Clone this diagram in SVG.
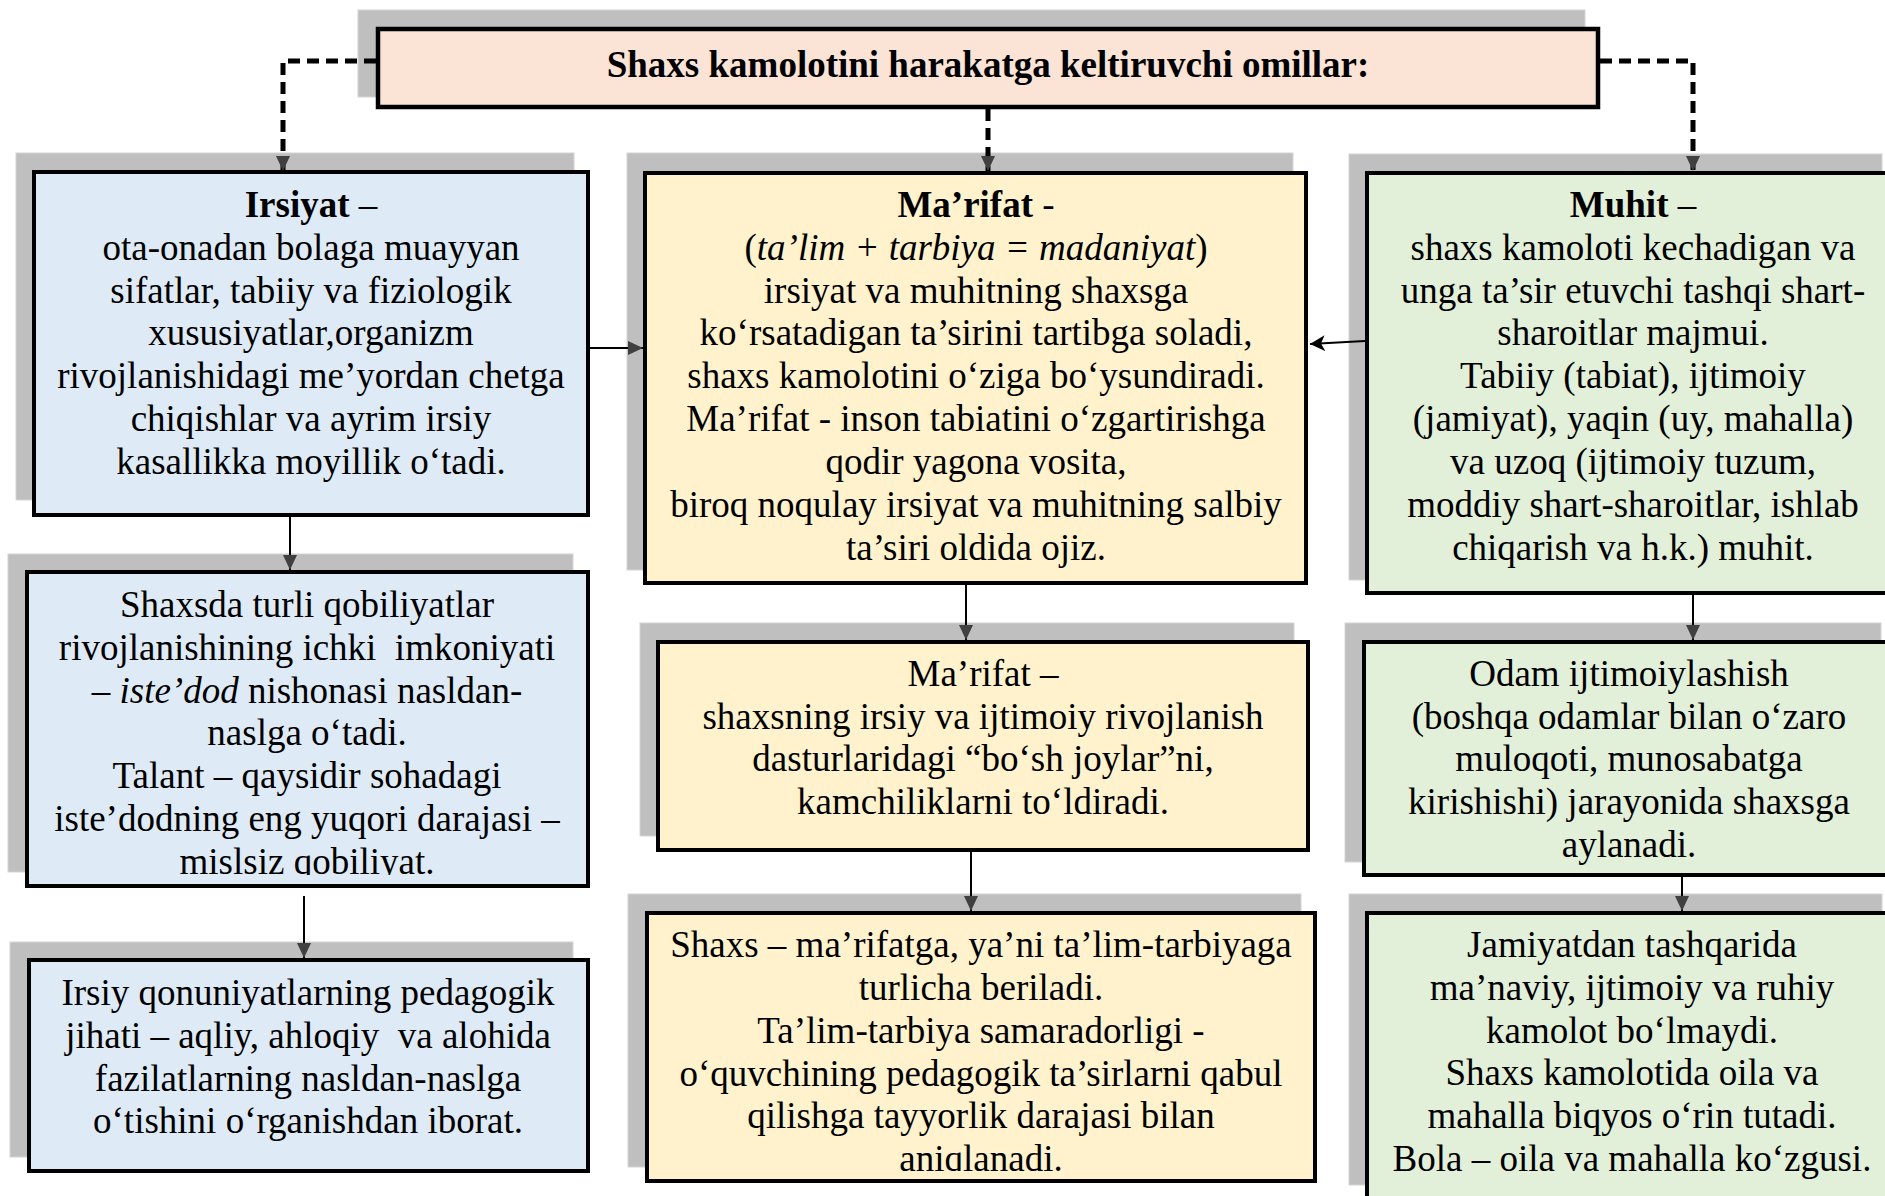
<svg xmlns="http://www.w3.org/2000/svg" width="1885" height="1196" viewBox="0 0 1885 1196">
<style>
.sh{fill:#bfbfbf;stroke:#d4d4d4;stroke-width:1}
.bx{stroke:#000;stroke-width:4}
.blue{fill:#deeaf6}
.yel{fill:#fff2cc}
.grn{fill:#e2efd9}
.ttl{fill:#fbe4d5;stroke:#000;stroke-width:4.5}
text{font-family:"Liberation Serif","Times New Roman",serif;font-size:37px;fill:#000;text-anchor:middle}
.b{font-weight:bold}
.i{font-style:italic}
.dash{fill:none;stroke:#000;stroke-width:5;stroke-dasharray:12 7}
.ln{fill:none;stroke:#000;stroke-width:2}
</style>
<defs>
<marker id="ag" markerUnits="userSpaceOnUse" markerWidth="16" markerHeight="16" refX="15" refY="7" orient="auto" viewBox="0 0 16 14">
<path d="M0,0 L15,7 L0,14 z" fill="#404040"/>
</marker>
<marker id="ab" markerUnits="userSpaceOnUse" markerWidth="16" markerHeight="16" refX="15" refY="8" orient="auto" viewBox="0 0 16 16">
<path d="M0,0 L15,8 L0,16 L4,8 z" fill="#000"/>
</marker>
<clipPath id="c2"><rect x="25" y="570" width="565" height="305"/></clipPath>
<clipPath id="c6"><rect x="645" y="911" width="672" height="260"/></clipPath>
</defs>

<g id="title">
<rect class="sh" x="358" y="10" width="1227" height="87"/>
<rect class="ttl" x="378" y="29" width="1220" height="78"/>
<text class="b" x="988" y="77">Shaxs kamolotini harakatga keltiruvchi omillar:</text>
</g>

<g id="irsiyat">
<rect class="sh" x="16" y="153" width="558" height="347"/>
<rect class="bx blue" x="34" y="172" width="554" height="343"/>
<text x="311" y="217"><tspan class="b">Irsiyat</tspan> –</text>
<text x="311" y="260">ota-onadan bolaga muayyan</text>
<text x="311" y="303">sifatlar, tabiiy va fiziologik</text>
<text x="311" y="345">xususiyatlar,organizm</text>
<text x="311" y="388">rivojlanishidagi me’yordan chetga</text>
<text x="311" y="431">chiqishlar va ayrim irsiy</text>
<text x="311" y="474">kasallikka moyillik o‘tadi.</text>
</g>

<g id="marifat">
<rect class="sh" x="627" y="153" width="666" height="417"/>
<rect class="bx yel" x="645" y="173" width="661" height="410"/>
<text x="976" y="217"><tspan class="b">Ma’rifat</tspan> -</text>
<text x="976" y="260">(<tspan class="i">ta’lim + tarbiya = madaniyat</tspan>)</text>
<text x="976" y="303">irsiyat va muhitning shaxsga</text>
<text x="976" y="345">ko‘rsatadigan ta’sirini tartibga soladi,</text>
<text x="976" y="388">shaxs kamolotini o‘ziga bo‘ysundiradi.</text>
<text x="976" y="431">Ma’rifat - inson tabiatini o‘zgartirishga</text>
<text x="976" y="474">qodir yagona vosita,</text>
<text x="976" y="517">biroq noqulay irsiyat va muhitning salbiy</text>
<text x="976" y="560">ta’siri oldida ojiz.</text>
</g>

<g id="muhit">
<rect class="sh" x="1349" y="154" width="533" height="426"/>
<rect class="bx grn" x="1367" y="173" width="530" height="420"/>
<text x="1633" y="217"><tspan class="b">Muhit</tspan> –</text>
<text x="1633" y="260">shaxs kamoloti kechadigan va</text>
<text x="1633" y="303">unga ta’sir etuvchi tashqi shart-</text>
<text x="1633" y="345">sharoitlar majmui.</text>
<text x="1633" y="388">Tabiiy (tabiat), ijtimoiy</text>
<text x="1633" y="431">(jamiyat), yaqin (uy, mahalla)</text>
<text x="1633" y="474">va uzoq (ijtimoiy tuzum,</text>
<text x="1633" y="517">moddiy shart-sharoitlar, ishlab</text>
<text x="1633" y="560">chiqarish va h.k.) muhit.</text>
</g>

<g id="irsiyat2">
<rect class="sh" x="8" y="554" width="565" height="318"/>
<rect class="bx blue" x="27" y="572" width="561" height="314"/>
<g clip-path="url(#c2)">
<text x="307" y="617">Shaxsda turli qobiliyatlar</text>
<text x="307" y="660">rivojlanishining ichki&#160; imkoniyati</text>
<text x="307" y="703">– <tspan class="i">iste’dod</tspan> nishonasi nasldan-</text>
<text x="307" y="745">naslga o‘tadi.</text>
<text x="307" y="788">Talant – qaysidir sohadagi</text>
<text x="307" y="831">iste’dodning eng yuqori darajasi –</text>
<text x="307" y="874">mislsiz qobiliyat.</text>
</g>
</g>

<g id="irsiyat3">
<rect class="sh" x="10" y="942" width="563" height="215"/>
<rect class="bx blue" x="29" y="960" width="559" height="211"/>
<text x="308" y="1005">Irsiy qonuniyatlarning pedagogik</text>
<text x="308" y="1048">jihati – aqliy, ahloqiy&#160; va alohida</text>
<text x="308" y="1091">fazilatlarning nasldan-naslga</text>
<text x="308" y="1133">o‘tishini o‘rganishdan iborat.</text>
</g>

<g id="marifat2">
<rect class="sh" x="640" y="623" width="654" height="213"/>
<rect class="bx yel" x="658" y="642" width="650" height="208"/>
<text x="983" y="686">Ma’rifat –</text>
<text x="983" y="729">shaxsning irsiy va ijtimoiy rivojlanish</text>
<text x="983" y="771">dasturlaridagi “bo‘sh joylar”ni,</text>
<text x="983" y="814">kamchiliklarni to‘ldiradi.</text>
</g>

<g id="marifat3">
<rect class="sh" x="628" y="894" width="673" height="273"/>
<rect class="bx yel" x="647" y="913" width="668" height="268"/>
<g clip-path="url(#c6)">
<text x="981" y="957">Shaxs – ma’rifatga, ya’ni ta’lim-tarbiyaga</text>
<text x="981" y="1000">turlicha beriladi.</text>
<text x="981" y="1043">Ta’lim-tarbiya samaradorligi -</text>
<text x="981" y="1086">o‘quvchining pedagogik ta’sirlarni qabul</text>
<text x="981" y="1128">qilishga tayyorlik darajasi bilan</text>
<text x="981" y="1171">aniqlanadi.</text>
</g>
</g>

<g id="muhit2">
<rect class="sh" x="1345" y="623" width="536" height="239"/>
<rect class="bx grn" x="1364" y="642" width="533" height="233"/>
<text x="1629" y="686">Odam ijtimoiylashish</text>
<text x="1629" y="729">(boshqa odamlar bilan o‘zaro</text>
<text x="1629" y="771">muloqoti, munosabatga</text>
<text x="1629" y="814">kirishishi) jarayonida shaxsga</text>
<text x="1629" y="857">aylanadi.</text>
</g>

<g id="muhit3">
<rect class="sh" x="1349" y="894" width="533" height="291"/>
<rect class="bx grn" x="1367" y="913" width="530" height="290"/>
<text x="1632" y="957">Jamiyatdan tashqarida</text>
<text x="1632" y="1000">ma’naviy, ijtimoiy va ruhiy</text>
<text x="1632" y="1043">kamolot bo‘lmaydi.</text>
<text x="1632" y="1085">Shaxs kamolotida oila va</text>
<text x="1632" y="1128">mahalla biqyos o‘rin tutadi.</text>
<text x="1632" y="1171">Bola – oila va mahalla ko‘zgusi.</text>
</g>

<g id="connectors">
<path class="dash" d="M376,61 H283 V171" marker-end="url(#ag)"/>
<path class="dash" d="M1600,61 H1693 V171" marker-end="url(#ag)"/>
<path class="dash" d="M988,109 V171" marker-end="url(#ag)"/>
<path class="ln" d="M290,517 V570" marker-end="url(#ag)"/>
<path class="ln" d="M304,896 V958" marker-end="url(#ag)"/>
<path class="ln" d="M590,348 H643" marker-end="url(#ag)"/>
<path class="ln" d="M1365,341 L1310,344" marker-end="url(#ab)"/>
<path class="ln" d="M966,585 V640" marker-end="url(#ag)"/>
<path class="ln" d="M971,852 V911" marker-end="url(#ag)"/>
<path class="ln" d="M1693,595 V640" marker-end="url(#ag)"/>
<path class="ln" d="M1682,877 V911" marker-end="url(#ag)"/>
</g>
</svg>
